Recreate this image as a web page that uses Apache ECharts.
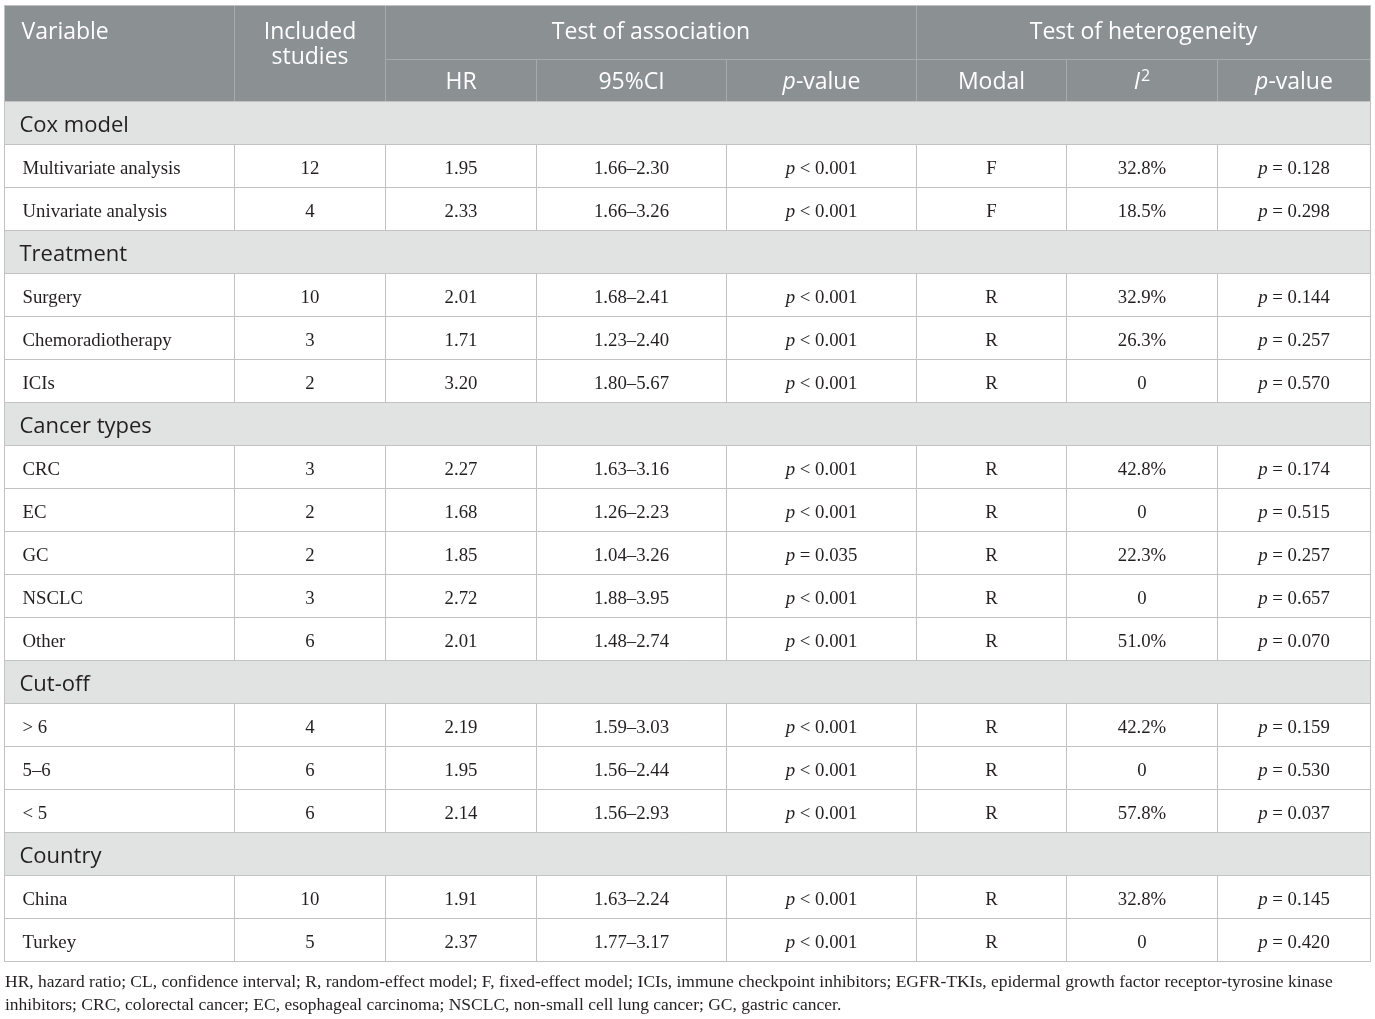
<!DOCTYPE html>
<html>
<head>
<meta charset="utf-8">
<script src="https://cdn.jsdelivr.net/npm/echarts@6/dist/echarts.min.js"></script>
<style>
  html, body { margin: 0; padding: 0; background: #fff; }
  #main { width: 1375px; height: 1019px; }
</style>
</head>
<body>
<div id="main"></div>
<script>
// table content
const sections = ['Cox model', 'Treatment', 'Cancer types', 'Cut-off', 'Country']
const sectionSizes = [2, 3, 5, 3, 2]
const variables = ['Multivariate analysis', 'Univariate analysis', 'Surgery', 'Chemoradiotherapy', 'ICIs',
  'CRC', 'EC', 'GC', 'NSCLC', 'Other', '> 6', '5–6', '< 5', 'China', 'Turkey']
const includedStudies = [12, 4, 10, 3, 2, 3, 2, 2, 3, 6, 4, 6, 6, 10, 5]
const hazardRatio = [1.95, 2.33, 2.01, 1.71, 3.20, 2.27, 1.68, 1.85, 2.72, 2.01, 2.19, 1.95, 2.14, 1.91, 2.37]
const ciLower = [1.66, 1.66, 1.68, 1.23, 1.80, 1.63, 1.26, 1.04, 1.88, 1.48, 1.59, 1.56, 1.56, 1.63, 1.77]
const ciUpper = [2.30, 3.26, 2.41, 2.40, 5.67, 3.16, 2.23, 3.26, 3.95, 2.74, 3.03, 2.44, 2.93, 2.24, 3.17]
const pAssociation = ['< 0.001', '< 0.001', '< 0.001', '< 0.001', '< 0.001', '< 0.001', '< 0.001', '= 0.035',
  '< 0.001', '< 0.001', '< 0.001', '< 0.001', '< 0.001', '< 0.001', '< 0.001']
const modal = ['F', 'F', 'R', 'R', 'R', 'R', 'R', 'R', 'R', 'R', 'R', 'R', 'R', 'R', 'R']
const iSquared = [32.8, 18.5, 32.9, 26.3, 0, 42.8, 0, 22.3, 0, 51.0, 42.2, 0, 57.8, 32.8, 0]
const pHeterogeneity = [0.128, 0.298, 0.144, 0.257, 0.570, 0.174, 0.515, 0.257, 0.657, 0.070, 0.159, 0.530, 0.037, 0.145, 0.420]
const footnoteLines = [
  'HR, hazard ratio; CL, confidence interval; R, random-effect model; F, fixed-effect model; ICIs, immune checkpoint inhibitors; EGFR-TKIs, epidermal growth factor receptor-tyrosine kinase',
  'inhibitors; CRC, colorectal cancer; EC, esophageal carcinoma; NSCLC, non-small cell lung cancer; GC, gastric cancer.'
]

// layout (table units = px)
const colEdges = [0, 230, 381, 532, 722, 912, 1062, 1213, 1366]
const headEdges = [0, 54, 96]
const rowH = 43
const tableH = headEdges[2] + rowH * (variables.length + sections.length)

const SANS = '"Open Sans", Lato, sans-serif'
const SERIF = '"Liberation Serif", "DejaVu Serif", serif'
const kinds = {
  head: { fill: '#8b9093', stroke: '#a7abad', color: '#ffffff', font: SANS, size: 23, dy: 0 },
  section: { fill: '#e1e2e2', stroke: '#c2c2c2', color: '#231f20', font: SANS, size: 22, dy: 2.5 },
  body: { fill: '#ffffff', stroke: '#c2c2c2', color: '#231f20', font: SERIF, size: 18.8, dy: 3.5 }
}
function richFor(k) {
  const s = kinds[k]
  return {
    n: { fontFamily: s.font, fontSize: s.size, fill: s.color },
    it: { fontFamily: s.font, fontSize: s.size, fill: s.color, fontStyle: 'italic' },
    sup: { fontFamily: s.font, fontSize: 16, fill: s.color, padding: [0, 0, 12, 1] }
  }
}

// build cells
const cells = []
function cell(c0, c1, y0, y1, kind, text, opt) {
  cells.push(Object.assign({ x0: colEdges[c0], x1: colEdges[c1], y0, y1, kind, text, align: 'center' }, opt || {}))
}
cell(0, 1, headEdges[0], headEdges[2], 'head', '{n|Variable}', { align: 'left', pad: 17, top: 27 })
cell(1, 2, headEdges[0], headEdges[2], 'head', '{n|Included}\n{n|studies}', { top: 14, lh: 25, multi: true })
cell(2, 5, headEdges[0], headEdges[1], 'head', '{n|Test of association}')
cell(5, 8, headEdges[0], headEdges[1], 'head', '{n|Test of heterogeneity}')
const subHeads = ['{n|HR}', '{n|95%CI}', '{it|p}{n|-value}', '{n|Modal}', '{it|I}{sup|2}', '{it|p}{n|-value}']
subHeads.forEach((t, j) => cell(j + 2, j + 3, headEdges[1], headEdges[2], 'head', t, { dy: 2 }))

let y = headEdges[2]
let vi = 0
sections.forEach((sec, si) => {
  cell(0, 8, y, y + rowH, 'section', '{n|' + sec + '}', { align: 'left', pad: 15 })
  y += rowH
  for (let k = 0; k < sectionSizes[si]; k++, vi++) {
    const i2 = iSquared[vi] === 0 ? '0' : iSquared[vi].toFixed(1) + '%'
    const row = [
      '{n|' + variables[vi] + '}',
      '{n|' + includedStudies[vi] + '}',
      '{n|' + hazardRatio[vi].toFixed(2) + '}',
      '{n|' + ciLower[vi].toFixed(2) + '–' + ciUpper[vi].toFixed(2) + '}',
      '{it|p}{n| ' + pAssociation[vi] + '}',
      '{n|' + modal[vi] + '}',
      '{n|' + i2 + '}',
      '{it|p}{n| = ' + pHeterogeneity[vi].toFixed(3) + '}'
    ]
    row.forEach((t, j) => cell(j, j + 1, y, y + rowH, 'body', t, j === 0 ? { align: 'left', pad: 18 } : {}))
    y += rowH
  }
})

function renderItem(params, api) {
  const c = cells[params.dataIndex]
  const s = kinds[c.kind]
  const p0 = api.coord([api.value(0), api.value(2)])
  const p1 = api.coord([api.value(1), api.value(3)])
  const x0 = Math.min(p0[0], p1[0]), x1 = Math.max(p0[0], p1[0])
  const y0 = Math.min(p0[1], p1[1]), y1 = Math.max(p0[1], p1[1])
  const children = [{
    type: 'rect',
    shape: { x: x0, y: y0, width: x1 - x0, height: y1 - y0 },
    style: { fill: s.fill, stroke: s.stroke, lineWidth: 1 }
  }]
  let ty = (y0 + y1) / 2 + (c.dy != null ? c.dy : s.dy)
  let va = 'middle'
  if (c.top != null) { ty = y0 + c.top; va = c.multi ? 'top' : 'middle' }
  children.push({
    type: 'text',
    style: {
      text: c.text,
      x: c.align === 'left' ? x0 + c.pad : (x0 + x1) / 2,
      y: ty,
      align: c.align,
      verticalAlign: va,
      lineHeight: c.lh || null,
      rich: richFor(c.kind)
    }
  })
  return { type: 'group', children }
}

const chart = echarts.init(document.getElementById('main'))
chart.setOption({
  animation: false,
  backgroundColor: '#ffffff',
  title: {
    text: footnoteLines.join('\n'),
    left: 0,
    top: 966,
    textStyle: { fontFamily: SERIF, fontSize: 17.5, fontWeight: 'normal', color: '#231f20', lineHeight: 23 }
  },
  grid: { left: 4.5, top: 5.5, width: colEdges[colEdges.length - 1], height: tableH },
  xAxis: { type: 'value', min: 0, max: colEdges[colEdges.length - 1], show: false },
  yAxis: { type: 'value', min: 0, max: tableH, inverse: true, show: false },
  series: [{
    type: 'custom',
    renderItem,
    encode: { x: [0, 1], y: [2, 3] },
    data: cells.map(c => [c.x0, c.x1, c.y0, c.y1])
  }, {
    // outer frame of the table
    type: 'custom',
    silent: true,
    renderItem: (params, api) => {
      const a = api.coord([0, 0]), b = api.coord([colEdges[colEdges.length - 1], tableH])
      return { type: 'rect', shape: { x: a[0], y: a[1], width: b[0] - a[0], height: b[1] - a[1] },
        style: { fill: 'none', stroke: '#c2c2c2', lineWidth: 1 } }
    },
    data: [[0, 0]]
  }]
})
</script>
</body>
</html>
